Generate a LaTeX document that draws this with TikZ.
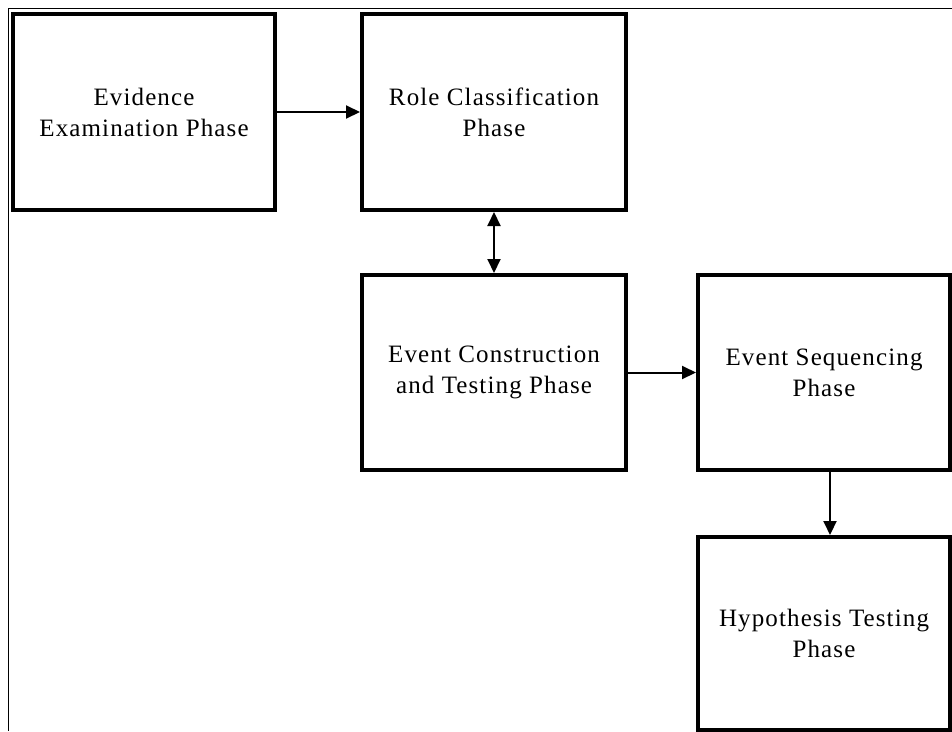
\documentclass[tikz,border=0pt]{standalone}
\usepackage{fontspec}
\setmainfont{Liberation Serif}[LetterSpace=4.5]
\usetikzlibrary{arrows.meta}
\begin{document}
\begin{tikzpicture}[x=1pt,y=-1pt,
  phase/.style={draw,line width=4pt,fill=white,align=center,font=\fontsize{25}{31}\selectfont},
  conn/.style={line width=2pt,-{Triangle[length=14pt,width=13pt]}},
  both/.style={line width=2pt,{Triangle[length=14pt,width=13pt]}-{Triangle[length=14pt,width=13pt]}}]
\useasboundingbox (0,0) rectangle (952,731);
\clip (0,0) rectangle (952,731);
\draw[line width=1.6pt] (952,8.5) -- (8.5,8.5) -- (8.5,731);
\node[phase,minimum width=262pt,minimum height=196pt] (ev) at (144,112) {Evidence\\Examination Phase};
\node[phase,minimum width=264pt,minimum height=196pt] (role) at (494,112) {Role Classification\\Phase};
\node[phase,minimum width=264pt,minimum height=195pt] (con) at (494,372.5) {Event Construction\\and Testing Phase};
\node[phase,minimum width=252pt,minimum height=195pt] (seq) at (824,372.5) {Event Sequencing\\Phase};
\node[phase,minimum width=252pt,minimum height=193pt] (hyp) at (824,633.5) {Hypothesis Testing\\Phase};
\draw[conn] (ev.east) -- (role.west);
\draw[both] (role.south) -- (con.north);
\draw[conn] (con.east) -- (seq.west);
\draw[conn] (seq.south -| 830,0) -- (hyp.north -| 830,0);
\end{tikzpicture}
\end{document}
